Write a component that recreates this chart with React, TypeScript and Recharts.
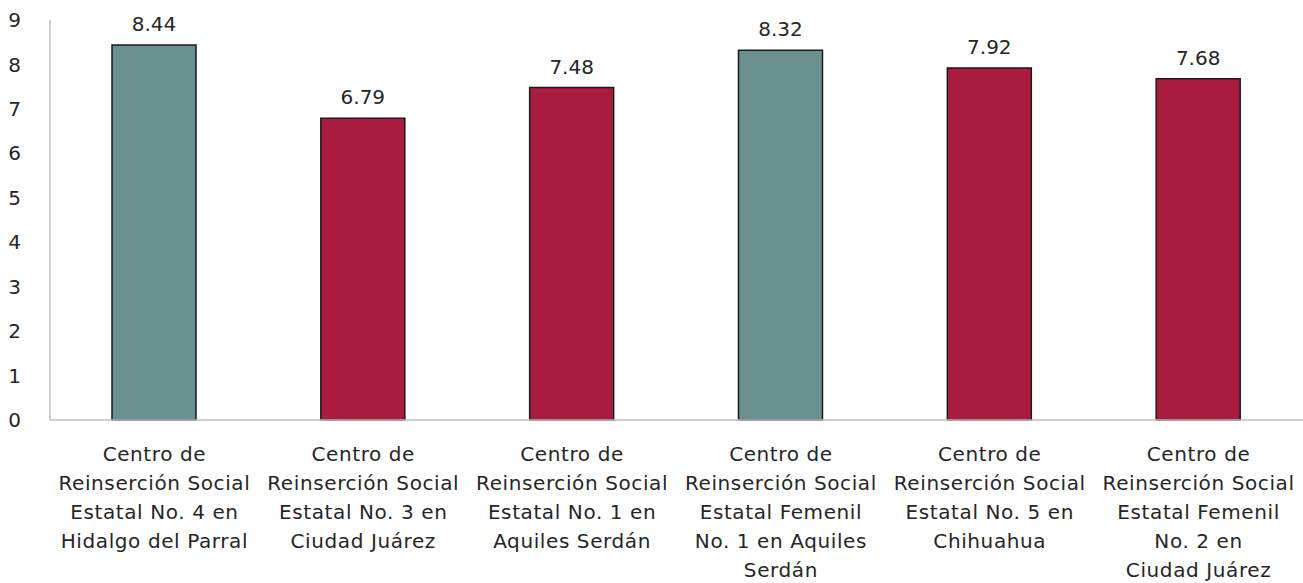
import React from "react"
import { Bar, BarChart, XAxis, YAxis, Cell, LabelList } from "recharts"

// etiquetas de los centros (con los saltos de línea del original)
const centros = [
  "Centro de\nReinserción Social\nEstatal No. 4 en\nHidalgo del Parral",
  "Centro de\nReinserción Social\nEstatal No. 3 en\nCiudad Juárez",
  "Centro de\nReinserción Social\nEstatal No. 1 en\nAquiles Serdán",
  "Centro de\nReinserción Social\nEstatal Femenil\nNo. 1 en Aquiles\nSerdán",
  "Centro de\nReinserción Social\nEstatal No. 5 en\nChihuahua",
  "Centro de\nReinserción Social\nEstatal Femenil\nNo. 2 en\nCiudad Juárez",
]

const calificaciones = [8.44, 6.79, 7.48, 8.32, 7.92, 7.68]

const colores = ["#6A918F", "#A91C3F", "#A91C3F", "#6A918F", "#A91C3F", "#A91C3F"]

const ticksY = [0, 1, 2, 3, 4, 5, 6, 7, 8, 9]

const data = centros.map((name, i) => ({ name, value: calificaciones[i] }))

const FONT = "'DejaVu Sans', sans-serif"

function CentroTick(props: any) {
  const { x, y, payload } = props
  const lines = String(payload.value).split("\n")
  return (
    <text x={x} y={y} textAnchor="middle" fill="#262626" fontSize={20} letterSpacing={0.6} fontFamily={FONT}>
      {lines.map((line, i) => (
        <tspan key={i} x={x} dy={i === 0 ? 33 : 29}>
          {line}
        </tspan>
      ))}
    </text>
  )
}

export default function App() {
  return (
    <div style={{ position: "absolute", left: 0, top: 0, background: "white" }}>
      <BarChart
        width={1303}
        height={583}
        data={data}
        margin={{ top: 20, right: 0, left: 0, bottom: 0 }}
        barCategoryGap={0}
      >
        <XAxis
          dataKey="name"
          tick={<CentroTick />}
          tickLine={false}
          axisLine={{ stroke: "#BFBFBF", strokeWidth: 1.5 }}
          interval={0}
          height={163}
        />
        <YAxis
          domain={[0, 9]}
          ticks={ticksY}
          width={50}
          tickLine={false}
          axisLine={{ stroke: "#BFBFBF", strokeWidth: 1.5 }}
          tickMargin={23}
          tick={{ fill: "#262626", fontSize: 20, fontFamily: FONT }}
          interval={0}
        />
        <Bar dataKey="value" barSize={84} stroke="#1a1a1a" strokeWidth={1.5} isAnimationActive={false}>
          {data.map((_, i) => (
            <Cell key={i} fill={colores[i]} />
          ))}
          <LabelList
            dataKey="value"
            position="top"
            offset={14}
            fill="#262626"
            fontSize={20}
            fontFamily={FONT}
            formatter={(v: any) => Number(v).toFixed(2)}
          />
        </Bar>
      </BarChart>
    </div>
  )
}
